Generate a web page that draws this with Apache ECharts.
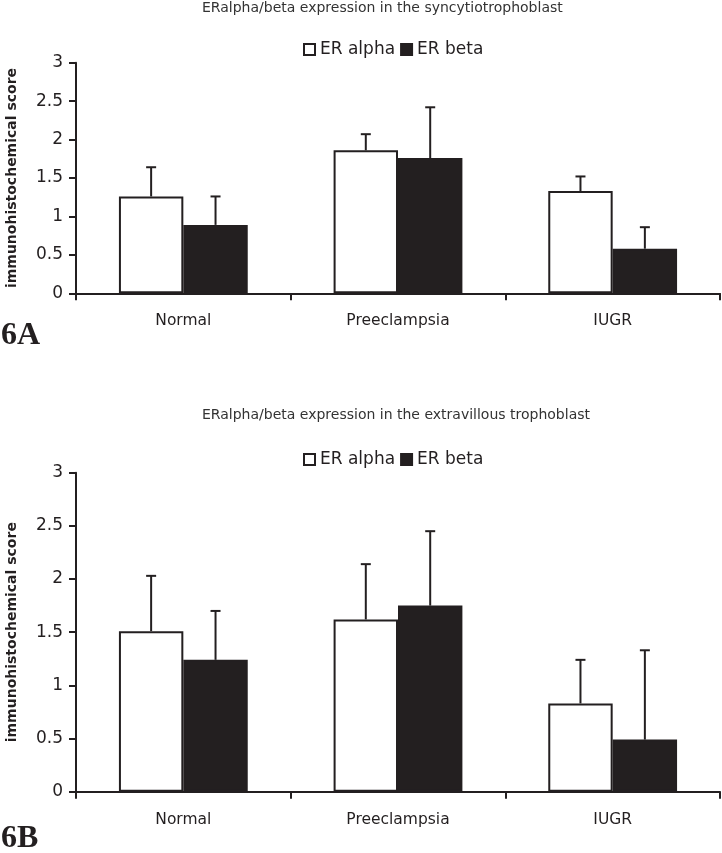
<!DOCTYPE html>
<html><head><meta charset="utf-8">
<script src="https://cdn.jsdelivr.net/npm/echarts@6/dist/echarts.min.js"></script>
<style>html,body{margin:0;padding:0;background:#fff}#c{width:722px;height:853px}</style>
</head><body><div id="c"></div>
<script>
const categories = ['Normal', 'Preeclampsia', 'IUGR'];
const titleA = 'ERalpha/beta expression in the syncytiotrophoblast';
const titleB = 'ERalpha/beta expression in the extravillous trophoblast';
const seriesNames = ['ER alpha', 'ER beta'];
const yTicks = [0, 0.5, 1, 1.5, 2, 2.5, 3];
// Panel A (syncytiotrophoblast)
const aAlpha = [1.26, 1.86, 1.33];
const aAlphaErrTop = [1.64, 2.07, 1.52];
const aBeta = [0.89, 1.76, 0.58];
const aBetaErrTop = [1.26, 2.42, 0.86];
// Panel B (extravillous trophoblast)
const bAlpha = [1.51, 1.62, 0.83];
const bAlphaErrTop = [2.03, 2.14, 1.24];
const bBeta = [1.24, 1.75, 0.49];
const bBetaErrTop = [1.70, 2.45, 1.33];

const INK = '#231f20';
const BARW = 0.30;
const font = 'DejaVu Sans, sans-serif';

function errSeries(idx, vals, tops, sign) {
  return {
    type: 'custom', xAxisIndex: idx, yAxisIndex: idx, z: 5,
    data: vals.map((v, i) => [i, v, tops[i]]),
    renderItem: function (params, api) {
      const p = api.coord([api.value(0), api.value(1)]);
      const t = api.coord([api.value(0), api.value(2)]);
      const bw = api.size([1, 0])[0];
      const x = p[0] + sign * bw * BARW / 2;
      const st = { stroke: INK, lineWidth: 2 };
      return { type: 'group', children: [
        { type: 'line', shape: { x1: x, y1: p[1], x2: x, y2: t[1] }, style: st },
        { type: 'line', shape: { x1: x - 5, y1: t[1], x2: x + 5, y2: t[1] }, style: st }
      ]};
    }
  };
}

function xAx(idx) {
  return {
    type: 'category', gridIndex: idx, data: categories,
    axisLine: { lineStyle: { color: INK, width: 2 } },
    axisTick: { show: true, length: 7, lineStyle: { color: INK, width: 2 } },
    axisLabel: { color: INK, fontSize: 15.5, fontFamily: font, margin: 20 }
  };
}
function yAx(idx) {
  return {
    type: 'value', gridIndex: idx, min: yTicks[0], max: yTicks[yTicks.length - 1], interval: 0.5,
    name: 'immunohistochemical score', nameLocation: 'middle', nameRotate: 90, nameGap: 57,
    nameTextStyle: { color: INK, fontSize: 14, fontWeight: 'bold', fontFamily: font },
    axisLine: { show: true, lineStyle: { color: INK, width: 2 } },
    axisTick: { show: true, length: 7, lineStyle: { color: INK, width: 2 } },
    axisLabel: { color: INK, fontSize: 17, fontFamily: font, margin: 13 },
    splitLine: { show: false }
  };
}
function legendAt(top) {
  return { top: top, left: 303, padding: 0, itemWidth: 11, itemHeight: 11, itemGap: 5, icon: 'rect',
    textStyle: { fontSize: 17, color: INK, fontFamily: font },
    data: seriesNames };
}
function titleAt(text, top) {
  return { text: text, left: 202, top: top, padding: 0,
    textStyle: { fontSize: 14, fontWeight: 'normal', color: '#333', fontFamily: font } };
}
const alphaStyle = { color: '#ffffff', borderColor: INK, borderWidth: 2 };
const betaStyle = { color: INK, borderColor: INK, borderWidth: 2 };
function bar(name, idx, data, style) {
  return { name: name, type: 'bar', xAxisIndex: idx, yAxisIndex: idx, data: data,
    barWidth: (BARW * 100) + '%', barGap: '0%', itemStyle: style };
}

const chart = echarts.init(document.getElementById('c'));
chart.setOption({
  animation: false,
  backgroundColor: '#ffffff',
  title: [titleAt(titleA, 1), titleAt(titleB, 408)],
  legend: [legendAt(41), legendAt(451)],
  grid: [
    { left: 76, right: 2, top: 62.7, bottom: 559.7, containLabel: false, outerBoundsMode: 'none' },
    { left: 76, right: 2, top: 472.7, bottom: 61.3, containLabel: false, outerBoundsMode: 'none' }
  ],
  xAxis: [xAx(0), xAx(1)],
  yAxis: [yAx(0), yAx(1)],
  graphic: [
    { type: 'text', left: 1, top: 320, style: { text: '6A', fontSize: 32, fontWeight: 'bold', fontFamily: 'Liberation Serif, serif', fill: INK } },
    { type: 'text', left: 1, top: 823, style: { text: '6B', fontSize: 32, fontWeight: 'bold', fontFamily: 'Liberation Serif, serif', fill: INK } }
  ],
  series: [
    bar(seriesNames[0], 0, aAlpha, alphaStyle),
    bar(seriesNames[1], 0, aBeta, betaStyle),
    errSeries(0, aAlpha, aAlphaErrTop, -1),
    errSeries(0, aBeta, aBetaErrTop, 1),
    bar(seriesNames[0], 1, bAlpha, alphaStyle),
    bar(seriesNames[1], 1, bBeta, betaStyle),
    errSeries(1, bAlpha, bAlphaErrTop, -1),
    errSeries(1, bBeta, bBetaErrTop, 1)
  ]
});
</script></body></html>
